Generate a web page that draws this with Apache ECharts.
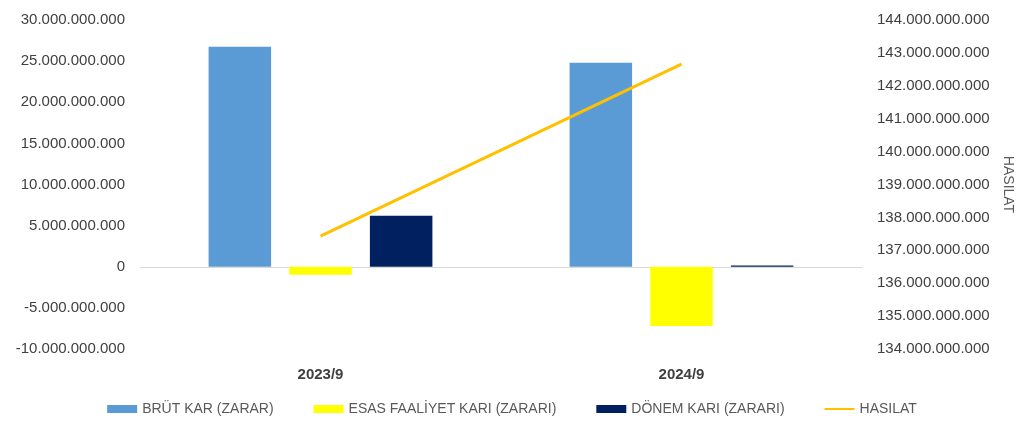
<!DOCTYPE html>
<html><head><meta charset="utf-8">
<script src="https://cdn.jsdelivr.net/npm/echarts@6/dist/echarts.min.js"></script>
<style>html,body{margin:0;padding:0;background:#fff}#c{width:1024px;height:439px}</style>
</head><body><div id="c"></div>
<script>
const categories = ['2023/9', '2024/9'];
const brutKar = [26750000000, 24800000000];
const esasFaaliyet = [-970000000, -7200000000];
const donemKar = [6200000000, 150000000];
const hasilat = [137430000000, 142660000000];
const fmt = v => v.toFixed(0).replace(/\B(?=(\d{3})+(?!\d))/g, '.');
const chart = echarts.init(document.getElementById('c'));
const font = 'Liberation Sans';
chart.setOption({
  animation: false,
  textStyle: {fontFamily: font},
  grid: {left: 140, right: 162, top: 20, bottom: 90},
  legend: {bottom: 18, itemGap: 40, itemWidth: 30, itemHeight: 8,
    textStyle: {fontFamily: font, fontSize: 14, color: '#595959'},
    data: [{name: 'BRÜT KAR (ZARAR)', icon: 'rect'}, {name: 'ESAS FAALİYET KARI (ZARARI)', icon: 'rect'},
           {name: 'DÖNEM KARI (ZARARI)', icon: 'rect'},
           {name: 'HASILAT', icon: 'path://M0,4L30,4L30,6L0,6Z'}]},
  xAxis: {type: 'category', data: categories,
    axisLine: {onZero: true, onZeroAxisIndex: 0, lineStyle: {color: '#d9d9d9'}}, axisTick: {show: false},
    axisLabel: {fontFamily: font, fontSize: 15, fontWeight: 'bold', color: '#404040', margin: 18}},
  yAxis: [
    {type: 'value', min: -10000000000, max: 30000000000, interval: 5000000000,
     splitLine: {show: false}, axisLine: {show: false},
     axisLabel: {formatter: fmt, fontFamily: font, fontSize: 15, color: '#404040', margin: 15}},
    {type: 'value', min: 134000000000, max: 144000000000, interval: 1000000000,
     splitLine: {show: false}, axisLine: {show: false},
     name: 'HASILAT', nameLocation: 'middle', nameGap: 136, nameRotate: -90,
     nameTextStyle: {fontFamily: font, fontSize: 14, color: '#595959'},
     axisLabel: {formatter: fmt, fontFamily: font, fontSize: 15, color: '#404040', margin: 15}}
  ],
  series: [
    {name: 'BRÜT KAR (ZARAR)', type: 'bar', data: brutKar, barGap: '29%', barCategoryGap: '38%',
     itemStyle: {color: '#5b9bd5'}},
    {name: 'ESAS FAALİYET KARI (ZARARI)', type: 'bar', data: esasFaaliyet, itemStyle: {color: '#ffff00'}},
    {name: 'DÖNEM KARI (ZARARI)', type: 'bar', data: donemKar, itemStyle: {color: '#002060'}},
    {name: 'HASILAT', type: 'line', yAxisIndex: 1, data: hasilat, symbol: 'none',
     lineStyle: {color: '#ffc000', width: 3}, itemStyle: {color: '#ffc000'}, z: 5}
  ]
});
</script></body></html>
